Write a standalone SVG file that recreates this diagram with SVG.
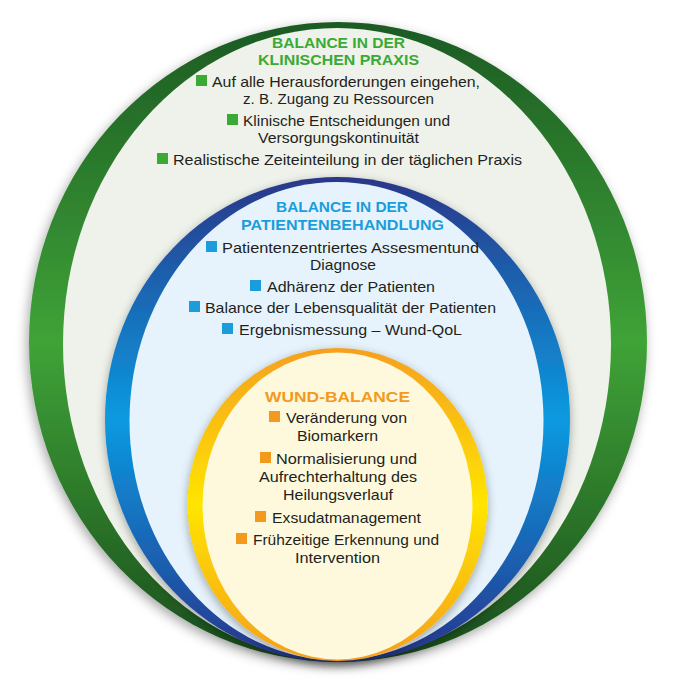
<svg xmlns="http://www.w3.org/2000/svg" width="690" height="698" viewBox="0 0 690 698">
<defs>
<linearGradient id="gGreen" x1="0" y1="0" x2="0" y2="1">
<stop offset="0" stop-color="#1c5a24"/>
<stop offset="0.5" stop-color="#3fa337"/>
<stop offset="1" stop-color="#1a4c1d"/>
</linearGradient>
<linearGradient id="gBlue" x1="0" y1="0" x2="0" y2="1">
<stop offset="0" stop-color="#2a3789"/>
<stop offset="0.5" stop-color="#0a9ae0"/>
<stop offset="1" stop-color="#28358d"/>
</linearGradient>
<linearGradient id="gYellow" x1="0" y1="0" x2="0" y2="1">
<stop offset="0" stop-color="#f5a020"/>
<stop offset="0.5" stop-color="#ffe500"/>
<stop offset="1" stop-color="#f59f1b"/>
</linearGradient>
<filter id="shadow" x="-10%" y="-10%" width="120%" height="125%">
<feDropShadow dx="-2" dy="4" stdDeviation="6" flood-color="#000" flood-opacity="0.35"/>
</filter>
<filter id="shadowIn" x="-10%" y="-10%" width="120%" height="125%">
<feDropShadow dx="0" dy="3" stdDeviation="5" flood-color="#000" flood-opacity="0.35"/>
</filter>
</defs>
<style>
.title{font-family:"Liberation Sans",Arial,sans-serif;font-weight:700;font-size:15px}
.tg{fill:#3aaa35}
.tb{fill:#1b9ddb}
.to{fill:#f39a1e}
.body{font-family:"Liberation Sans",Arial,sans-serif;font-size:15px;fill:#231f20}
.sg{fill:#3aaa35}
.sb{fill:#1b9ddb}
.so{fill:#f39a1e}
</style>
<rect width="690" height="698" fill="#ffffff"/>
<g id="klinische-praxis">
<ellipse cx="338" cy="342" rx="309" ry="320" fill="url(#gGreen)" filter="url(#shadow)"/>
<ellipse cx="337" cy="344" rx="274" ry="316" fill="#eff2ea"/>
<text class="title tg" x="272" y="48" textLength="133" lengthAdjust="spacingAndGlyphs">BALANCE IN DER</text>
<text class="title tg" x="258" y="65" textLength="161" lengthAdjust="spacingAndGlyphs">KLINISCHEN PRAXIS</text>
<rect class="sg" x="196" y="75" width="11" height="11"/>
<text class="body" x="212" y="87" textLength="268" lengthAdjust="spacingAndGlyphs">Auf alle Herausforderungen eingehen,</text>
<text class="body" x="243" y="104" textLength="191" lengthAdjust="spacingAndGlyphs">z. B. Zugang zu Ressourcen</text>
<rect class="sg" x="227" y="114" width="11" height="11"/>
<text class="body" x="243" y="126" textLength="207" lengthAdjust="spacingAndGlyphs">Klinische Entscheidungen und</text>
<text class="body" x="258" y="143" textLength="161" lengthAdjust="spacingAndGlyphs">Versorgungskontinuität</text>
<rect class="sg" x="157" y="153" width="11" height="11"/>
<text class="body" x="173" y="165" textLength="349" lengthAdjust="spacingAndGlyphs">Realistische Zeiteinteilung in der täglichen Praxis</text>
</g>
<g id="patientenbehandlung">
<ellipse cx="337.5" cy="419.5" rx="232.5" ry="242.5" fill="url(#gBlue)" filter="url(#shadowIn)"/>
<ellipse cx="336.5" cy="421" rx="207" ry="239" fill="#e6f3fc"/>
<text class="title tb" x="276" y="212" textLength="132" lengthAdjust="spacingAndGlyphs">BALANCE IN DER</text>
<text class="title tb" x="241" y="230" textLength="203" lengthAdjust="spacingAndGlyphs">PATIENTENBEHANDLUNG</text>
<rect class="sb" x="206" y="241" width="11" height="11"/>
<text class="body" x="222" y="253" textLength="257" lengthAdjust="spacingAndGlyphs">Patientenzentriertes Assesmentund</text>
<text class="body" x="310" y="270" textLength="66" lengthAdjust="spacingAndGlyphs">Diagnose</text>
<rect class="sb" x="250" y="280" width="11" height="11"/>
<text class="body" x="267" y="292" textLength="168" lengthAdjust="spacingAndGlyphs">Adhärenz der Patienten</text>
<rect class="sb" x="189" y="301" width="11" height="11"/>
<text class="body" x="205" y="313" textLength="291" lengthAdjust="spacingAndGlyphs">Balance der Lebensqualität der Patienten</text>
<rect class="sb" x="222" y="323" width="11" height="11"/>
<text class="body" x="239" y="335" textLength="223" lengthAdjust="spacingAndGlyphs">Ergebnismessung – Wund-QoL</text>
</g>
<g id="wund-balance">
<ellipse cx="337.5" cy="504.5" rx="150" ry="156.5" fill="url(#gYellow)" filter="url(#shadowIn)"/>
<ellipse cx="337.5" cy="506" rx="135" ry="153.5" fill="#fef9dc"/>
<text class="title to" x="265" y="402" textLength="145" lengthAdjust="spacingAndGlyphs">WUND-BALANCE</text>
<rect class="so" x="269" y="411" width="11" height="11"/>
<text class="body" x="286" y="423" textLength="121" lengthAdjust="spacingAndGlyphs">Veränderung von</text>
<text class="body" x="297" y="441" textLength="81" lengthAdjust="spacingAndGlyphs">Biomarkern</text>
<rect class="so" x="260" y="452" width="11" height="11"/>
<text class="body" x="276" y="464" textLength="141" lengthAdjust="spacingAndGlyphs">Normalisierung und</text>
<text class="body" x="259" y="482" textLength="158" lengthAdjust="spacingAndGlyphs">Aufrechterhaltung des</text>
<text class="body" x="283" y="500" textLength="110" lengthAdjust="spacingAndGlyphs">Heilungsverlauf</text>
<rect class="so" x="255" y="511" width="11" height="11"/>
<text class="body" x="272" y="523" textLength="149" lengthAdjust="spacingAndGlyphs">Exsudatmanagement</text>
<rect class="so" x="236" y="533" width="11" height="11"/>
<text class="body" x="253" y="545" textLength="186" lengthAdjust="spacingAndGlyphs">Frühzeitige Erkennung und</text>
<text class="body" x="295" y="563" textLength="85" lengthAdjust="spacingAndGlyphs">Intervention</text>
</g>
<g id="connectors"/>
</svg>
